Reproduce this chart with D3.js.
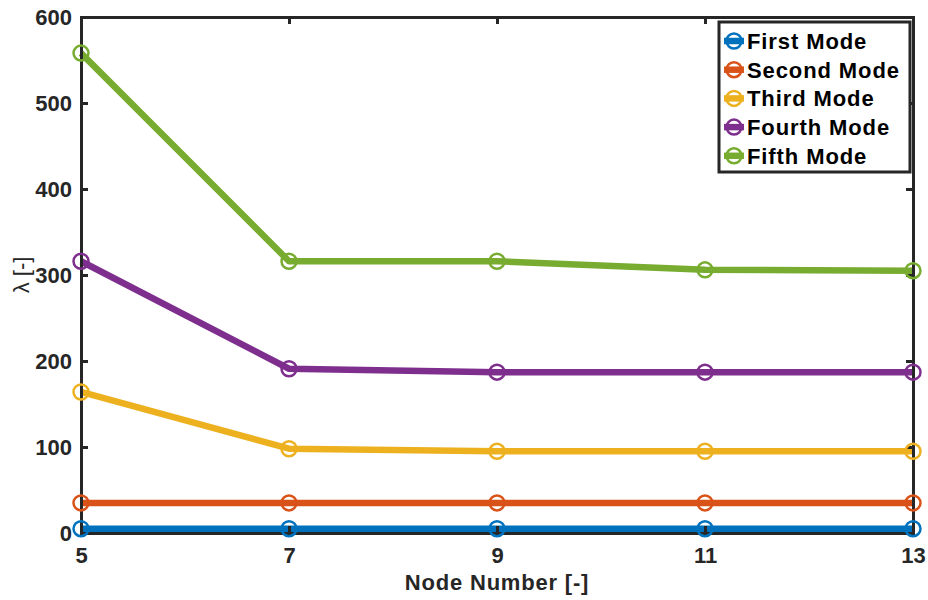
<!DOCTYPE html>
<html><head><meta charset="utf-8">
<script src="https://cdn.jsdelivr.net/npm/d3@7"></script>
<style>body{margin:0;background:#fff;} svg{display:block;font-family:"Liberation Sans",Arial,Helvetica,sans-serif;}</style>
</head><body>
<svg id="c" width="928" height="600"></svg>
<script>
const nodes = [5, 7, 9, 11, 13];
const seriesNames = ["First Mode", "Second Mode", "Third Mode", "Fourth Mode", "Fifth Mode"];
const first = [5, 5, 5, 5, 5];
const second = [35, 35, 35, 35, 35];
const third = [164, 98, 95, 95, 95];
const fourth = [316, 191, 187, 187, 187];
const fifth = [558, 316, 316, 306, 305];
const colors = ["#0072BD", "#D95319", "#EDB120", "#7E2F8E", "#77AC30"];
const yTicks = [0, 100, 200, 300, 400, 500, 600];
const xTicks = [5, 7, 9, 11, 13];

const series = [first, second, third, fourth, fifth];
const svg = d3.select("#c");
const L = 81, R = 913, T = 17, B = 533;
const x = d3.scaleLinear().domain([5, 13]).range([L, R]);
const y = d3.scaleLinear().domain([0, 600]).range([B, T]);
const axisCol = "#262626";

// lines
const line = d3.line().x((d, i) => x(nodes[i])).y(d => y(d));
series.forEach((s, k) => {
  svg.append("path").datum(s).attr("d", line).attr("fill", "none")
    .attr("stroke", colors[k]).attr("stroke-width", 6.5).attr("stroke-linejoin", "round");
});

// axes
const gx = svg.append("g").attr("transform", `translate(0,${B})`)
  .call(d3.axisBottom(x).tickValues(xTicks).tickSize(-7).tickPadding(14).tickFormat(d3.format("d")));
const gy = svg.append("g").attr("transform", `translate(${L},0)`)
  .call(d3.axisLeft(y).tickValues(yTicks).tickSize(-7).tickPadding(9));
const gxt = svg.append("g").attr("transform", `translate(0,${T})`)
  .call(d3.axisTop(x).tickValues(xTicks).tickSize(-7).tickFormat(""));
const gyr = svg.append("g").attr("transform", `translate(${R},0)`)
  .call(d3.axisRight(y).tickValues(yTicks).tickSize(-7).tickFormat(""));
[gx, gy, gxt, gyr].forEach(g => {
  g.selectAll("path").attr("stroke", axisCol).attr("stroke-width", 3);
  g.selectAll("line").attr("stroke", axisCol).attr("stroke-width", 3);
  g.selectAll("text").attr("fill", "#262626").style("font-size", "22px").style("font-weight", "bold")
    .style("font-family", '"Liberation Sans",Arial,sans-serif');
});
gx.selectAll("text").attr("dy", "0.71em");

// markers
series.forEach((s, k) => {
  svg.append("g").selectAll("circle").data(s).join("circle")
    .attr("cx", (d, i) => x(nodes[i])).attr("cy", d => y(d)).attr("r", 7.5)
    .attr("fill", "none").attr("stroke", colors[k]).attr("stroke-width", 2.5);
});

// axis labels
svg.append("text").attr("x", (L + R) / 2).attr("y", 590).attr("text-anchor", "middle")
  .style("font-size", "22px").style("font-weight", "bold").style("letter-spacing", "0.8px")
  .attr("fill", "#262626").text("Node Number [-]");
svg.append("text").attr("transform", `translate(29,${(T + B) / 2}) rotate(-90)`).attr("text-anchor", "middle")
  .style("font-size", "22px").attr("fill", "#262626").text("λ [-]");

// legend
const lg = svg.append("g");
lg.append("rect").attr("x", 719).attr("y", 22).attr("width", 191).attr("height", 150)
  .attr("fill", "#fff").attr("stroke", axisCol).attr("stroke-width", 3);
seriesNames.forEach((n, k) => {
  const yy = 41 + k * 28.7;
  lg.append("line").attr("x1", 724).attr("x2", 744).attr("y1", yy).attr("y2", yy)
    .attr("stroke", colors[k]).attr("stroke-width", 6.5);
  lg.append("circle").attr("cx", 734).attr("cy", yy).attr("r", 7.5).attr("fill", "none")
    .attr("stroke", colors[k]).attr("stroke-width", 2.5);
  lg.append("text").attr("x", 747).attr("y", yy).attr("dy", "0.36em")
    .style("font-size", "22px").style("font-weight", "bold").style("letter-spacing", "0.9px")
    .attr("fill", "#000").text(n);
});
</script>
</body></html>
